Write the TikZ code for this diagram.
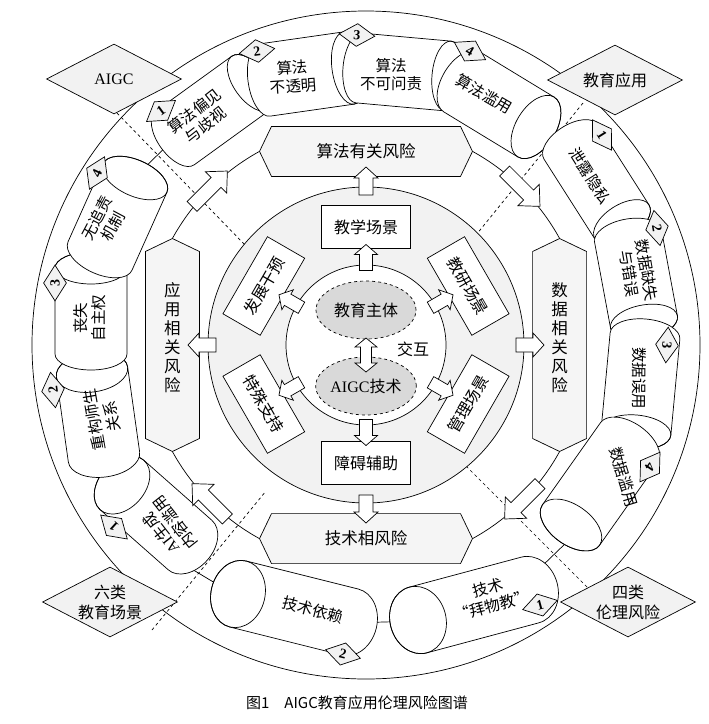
\documentclass[tikz,border=0pt]{standalone}
\usepackage{fontspec}
\setmainfont{Liberation Serif}
\newfontfamily\cjk{Noto Sans CJK SC}
\usetikzlibrary{shapes.geometric}
\tikzset{
 ttxt/.style={font=\cjk\fontsize{15.5}{18}\selectfont, align=center, inner sep=0pt},
 htxt/.style={font=\cjk\fontsize{16.5}{19}\selectfont, align=center, inner sep=0pt},
 bigdia/.style={diamond, draw, fill=gray!10, aspect=1.93, minimum width=135pt, minimum height=70pt, inner sep=0pt, font=\cjk\fontsize{16}{20}\selectfont, align=center},
 sdia/.style={diamond, draw, fill=gray!10, aspect=1.56, minimum width=36pt, minimum height=23pt, inner sep=0pt, font=\bfseries\fontsize{14}{14}\selectfont},
 sbox/.style={rectangle, draw, fill=white, minimum width=89pt, minimum height=43pt, inner sep=0pt, font=\cjk\fontsize{16}{19}\selectfont},
 ell/.style={ellipse, draw, dashed, fill=gray!30, minimum width=100pt, minimum height=58pt, inner sep=0pt, font=\cjk\fontsize{16}{19}\selectfont},
 hexst/.style={draw, fill=gray!8},
}
% tube from back-end centre (#1,#2) to face centre (#3,#4), image coords; #5 diameter, #6 ellipse half-axis
\newcommand\tube[6]{%
 \pgfmathsetmacro\tcx{(#1+#3)/2}%
 \pgfmathsetmacro\tcy{(#2+#4)/2}%
 \pgfmathsetmacro\tang{atan2(#2-#4,#3-#1)}%
 \pgfmathsetmacro\tlen{veclen(#3-#1,#4-#2)/2}%
 \begin{scope}[shift={(\tcx,-\tcy)},rotate=\tang]
  \draw[fill=white] (-\tlen,#5/2) -- (\tlen,#5/2) arc[start angle=90,end angle=-90,x radius=#6,y radius=#5/2] -- (-\tlen,-#5/2) arc[start angle=270,end angle=90,x radius=#6,y radius=#5/2] -- cycle;
  \draw (\tlen,0) ellipse[x radius=#6,y radius=#5/2];
 \end{scope}}
% block arrow: x, y (centre, image), angle, length, shaft half, head half, head length
\newcommand\barr[7]{%
 \begin{scope}[shift={(#1,-#2)},rotate=#3]
  \draw[fill=white] (-#4/2,-#5) -- (#4/2-#7,-#5) -- (#4/2-#7,-#6) -- (#4/2,0) -- (#4/2-#7,#6) -- (#4/2-#7,#5) -- (-#4/2,#5) -- cycle;
 \end{scope}}
\newcommand\hexH[4]{%
 \draw[hexst] (#2-106.5,-#3) -- (#2-94.5,-#3+25) -- (#2+94.5,-#3+25) -- (#2+106.5,-#3) -- (#2+94.5,-#3-25) -- (#2-94.5,-#3-25) -- cycle;
 \node[htxt] (#1) at (#2,-#3) {#4};}
\newcommand\hexV[4]{%
 \draw[hexst] (#2,-#3+106.5) -- (#2+27,-#3+93.5) -- (#2+27,-#3-93.5) -- (#2,-#3-106.5) -- (#2-27,-#3-93.5) -- (#2-27,-#3+93.5) -- cycle;
 \node[htxt] (#1) at (#2,-#3+7) {#4};}
\begin{document}
\begin{tikzpicture}[x=1pt,y=1pt,line width=0.7pt]
\useasboundingbox (0,0) rectangle (709,-724);
\coordinate (O) at (366,-345);
\draw (O) circle[radius=334];
% dashed diagonals
\draw[dashed] (117,-113) -- (245,-245);
\draw[dashed] (583,-103) -- (476,-235);
\draw[dashed] (587,-587) -- (465,-465);
\draw[dashed] (152,-630) -- (266,-491);
% connectors between tubes
\draw (134.6,-177.3) -- (175,-138);
\draw (185,-565) -- (220,-586);
\draw (350,-623) -- (418,-621);
\draw (540,-568) -- (568,-541);
\draw (536,-127) -- (571,-142);
% top tubes
\tube{175}{138}{251}{83}{66}{17}
\tube{265}{80}{349}{68}{73}{17}
\tube{359}{68}{448}{76}{70}{16}
\tube{462}{82}{536}{127}{70}{20}
% right tubes
\tube{571}{142}{622}{222}{64}{17}
\tube{628}{236}{644}{322}{68}{17}
\tube{645}{336}{636}{432}{70}{17}
\tube{629}{443}{571}{525}{70}{20}
% bottom tubes
\tube{350}{622}{238}{594}{68}{27}
\tube{530}{590}{418}{620}{68}{28}
% left tubes
\tube{190}{545}{122}{485}{66}{23}
\tube{104}{457}{92}{372}{72}{20}
\tube{91}{354}{91}{268}{72}{16}
\tube{100}{256}{135}{178}{70}{18}
% tube texts
\node[ttxt, rotate=38] (c1) at (200,-118) {算法偏见\\与歧视};
\node[ttxt, rotate=4] (c2) at (293,-77) {算法\\不透明};
\node[ttxt] (c3) at (391,-75) {算法\\不可问责};
\node[ttxt, rotate=-30] (c4) at (484,-94) {算法滥用};
\node[ttxt, rotate=-58] (d1) at (590,-176) {泄露隐私};
\node[ttxt, rotate=-80] (d2) at (638,-272) {数据缺失\\与错误};
\node[ttxt, rotate=-90] (d3) at (639,-378) {数据误用};
\node[ttxt, rotate=-73] (d4) at (624,-477) {数据滥用};
\node[ttxt, rotate=15] (t1) at (490,-597) {技术\\“拜物教”};
\node[ttxt, rotate=-15] (t2) at (313,-610) {技术依赖};
\node[ttxt, rotate=128] (l1) at (168,-528) {{\rmfamily AI}生成\\内容滥用};
\node[ttxt, rotate=100] (l2) at (103,-418) {重构师生\\关系};
\node[ttxt, rotate=90] (l3) at (90,-318) {丧失\\自主权};
\node[ttxt, rotate=62] (l4) at (105,-222) {无追责\\机制};
% small diamonds
\node[sdia, rotate=36] (n1) at (161,-111) {1};
\node[sdia, rotate=8] (n2) at (257,-51) {2};
\node[sdia, rotate=-4] (n3) at (357,-35) {3};
\node[sdia, rotate=-29] (n4) at (470,-51) {4};
\node[sdia, rotate=-58] (n5) at (602,-135) {1};
\node[sdia, rotate=-80] (n6) at (657,-228) {2};
\node[sdia, rotate=-94] (n7) at (667,-345) {3};
\node[sdia, rotate=-124] (n8) at (650,-467) {4};
\node[sdia, rotate=15] (n9) at (540,-605) {1};
\node[sdia, rotate=-14] (n10) at (343,-654) {2};
\node[sdia, rotate=138] (n11) at (114,-527) {1};
\node[sdia, rotate=98] (n12) at (53,-390) {2};
\node[sdia, rotate=90] (n13) at (55,-283) {3};
\node[sdia, rotate=65] (n14) at (97,-173) {4};
% big diamonds
\node[bigdia] (aigc) at (114,-79) {{\rmfamily AIGC}};
\node[bigdia] (jyyy) at (615,-80) {教育应用};
\node[bigdia] (lljy) at (110,-602) {六类\\教育场景};
\node[bigdia] (slll) at (628,-602) {四类\\伦理风险};
% ring
\foreach \a/\b in {151.2/118.8, 61.2/28.8, -28.8/-61.2, -118.8/-151.2}
  \draw ([shift={(O)}]\a:221) arc[start angle=\a, end angle=\b, radius=221];
\hexH{hsf}{366}{151.4}{算法有关风险}
\hexH{hjs}{366}{538.6}{技术相风险}
\hexV{hyy}{172.4}{345}{应\\用\\相\\关\\风\\险}
\hexV{hsj}{559.6}{345}{数\\据\\相\\关\\风\\险}
\barr{209.7}{188.7}{45}{50}{7}{15}{16}
\barr{522.3}{188.7}{-45}{50}{7}{15}{16}
\barr{522.3}{501.3}{-135}{50}{7}{15}{16}
\barr{209.7}{501.3}{135}{50}{7}{15}{16}
% middle gray disc
\draw[fill=gray!10] (O) circle[radius=158];
\barr{366}{181}{90}{28}{7}{12}{11}
\barr{530}{345}{0}{28}{7}{12}{11}
\barr{366}{509}{-90}{28}{7}{12}{11}
\barr{202}{345}{180}{28}{7}{12}{11}
\draw[fill=white] (O) circle[radius=80];
% scene boxes
\node[sbox] (b1) at ([shift={(O)}]90:118) {教学场景};
\node[sbox, rotate=-60] (b2) at ([shift={(O)}]30:118) {教研场景};
\node[sbox, rotate=60] (b3) at ([shift={(O)}]-30:118) {管理场景};
\node[sbox] (b4) at ([shift={(O)}]-90:118) {障碍辅助};
\node[sbox, rotate=-60] (b5) at ([shift={(O)}]-150:118) {特殊支持};
\node[sbox, rotate=60] (b6) at ([shift={(O)}]150:118) {发展干预};
\foreach \ang in {90,30,-30,-90,-150,150}{%
  \pgfmathsetmacro\px{366+87.5*cos(\ang)}%
  \pgfmathsetmacro\py{345-87.5*sin(\ang)}%
  \barr{\px}{\py}{\ang}{26}{6.5}{11.5}{10}}
% centre
\node[ell] (e1) at (366,-310) {教育主体};
\node[ell] (e2) at (366,-386) {{\rmfamily AIGC}技术};
\draw[fill=white] (366,-338) -- (377,-347) -- (371.5,-347) -- (371.5,-363) -- (377,-363) -- (366,-372) -- (355,-363) -- (360.5,-363) -- (360.5,-347) -- (355,-347) -- cycle;
\node[htxt, font=\cjk\fontsize{16}{19}\selectfont] (jh) at (413,-349) {交互};
% caption
\node[font=\cjk\fontsize{15}{18}\selectfont, inner sep=0pt] (cap) at (357,-703) {图1\quad AIGC教育应用伦理风险图谱};
\end{tikzpicture}
\end{document}
